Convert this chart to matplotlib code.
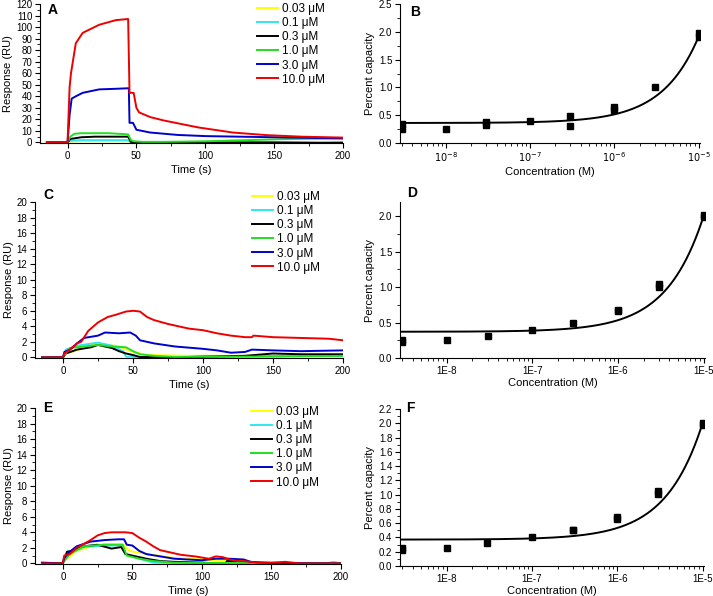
import matplotlib; matplotlib.use("Agg")
import matplotlib.pyplot as plt, numpy as np
from matplotlib.ticker import MultipleLocator, LogLocator, FixedLocator, NullFormatter

plt.rcParams["font.family"] = ["Liberation Sans", "DejaVu Sans"]

CONCS = ["0.03 μM", "0.1 μM", "0.3 μM", "1.0 μM", "3.0 μM", "10.0 μM"]
COLORS = ["#ffff00", "#33e6f0", "#000000", "#22dd22", "#0000cc", "#ee0000"]

# ---- panel A sensorgrams (time s, response RU) ----
A_T = {
    "0.03": [-15, 0, 2, 10, 44, 46, 60, 100, 150, 200],
    "0.1":  [-15, 0, 2, 10, 44, 46, 60, 100, 150, 200],
    "0.3":  [-15, 0, 2, 10, 20, 44, 46, 47, 60, 100, 150, 185, 200],
    "1.0":  [-15, 0, 2, 5, 10, 30, 44, 46, 48, 55, 70, 100, 130, 160, 200],
    "3.0":  [-15, 0, 1.5, 3, 6, 11, 23, 35, 44.5, 45, 47.5, 50, 60, 80, 100, 125, 150, 175, 200],
    "10.0": [-15, 0, 1.5, 2.5, 6, 11, 23, 35, 44, 45, 48, 50, 52, 60, 70, 95, 120, 145, 170, 200],
}
A_Y = {
    "0.03": [0, 0, 0.8, 1.0, 1.0, 0.1, 0, 0.2, 0.3, 0.3],
    "0.1":  [0, 0, 1.5, 2.0, 2.0, 0.1, 0, 0.1, 0.2, 0.3],
    "0.3":  [0, 0, 3.0, 4.5, 5.0, 5.0, 0.5, 0, 0, 0, 0, -0.5, -0.3],
    "1.0":  [0, 0, 5.0, 7.5, 8.0, 8.0, 7.0, 2.0, 1.0, 0.5, 0.5, 1.0, 2.0, 3.0, 3.5],
    "3.0":  [0, 0, 24, 38, 40, 43, 46, 46.5, 47, 17, 17, 11, 8.6, 6.5, 5.5, 5.0, 4.5, 4.0, 3.5],
    "10.0": [0, 0, 48, 60, 86, 95, 102, 106, 107, 43, 43, 30, 26, 22, 19, 13, 8.6, 6.3, 5.0, 4.2],
}

# ---- panel C sensorgrams ----
C_T = {
    "0.03": [-15, 0, 2, 15, 25, 40, 50, 60, 90, 120, 200],
    "0.1":  [-15, 0, 2, 10, 25, 35, 43, 45, 60, 100, 150, 200],
    "0.3":  [-15, 0, 2, 10, 20, 25, 35, 40, 45, 50, 55, 80, 100, 130, 150, 170, 200],
    "1.0":  [-15, 0, 1, 5, 15, 25, 35, 45, 50, 55, 65, 80, 100, 150, 200],
    "3.0":  [-15, 0, 1, 5, 10, 15, 25, 30, 40, 48, 52, 55, 65, 80, 100, 110, 120, 130, 135, 150, 170, 200],
    "10.0": [-15, 0, 1, 5, 10, 13, 18, 25, 32, 38, 45, 50, 55, 60, 65, 75, 90, 100, 110, 120, 130, 135, 136, 150, 170, 190, 200],
}
C_Y = {
    "0.03": [0, 0, 0.5, 1.2, 1.8, 1.4, 0.7, 0.3, 0.2, 0.2, 0.2],
    "0.1":  [0, 0, 1.0, 1.5, 1.9, 1.5, 0.8, 0.1, 0, 0, 0.2, 0.2],
    "0.3":  [0, 0, 0.5, 1.0, 1.3, 1.6, 1.2, 0.8, 0.5, 0.3, 0.05, 0, 0.1, 0.2, 0.5, 0.4, 0.4],
    "1.0":  [0, 0, 0.3, 1.2, 1.4, 1.6, 1.4, 1.3, 0.8, 0.4, 0.2, 0.05, 0.1, 0.1, 0.2],
    "3.0":  [0, 0, 0.7, 1.0, 1.8, 2.5, 2.8, 3.2, 3.1, 3.2, 2.8, 2.2, 1.8, 1.4, 1.1, 0.9, 0.6, 0.7, 1.0, 0.9, 0.8, 0.9],
    "10.0": [0, 0, 0.5, 1.0, 1.8, 2.0, 3.4, 4.5, 5.2, 5.5, 5.9, 6.0, 5.9, 5.2, 4.8, 4.3, 3.7, 3.5, 3.1, 2.8, 2.6, 2.6, 2.8, 2.6, 2.5, 2.4, 2.2],
}

# ---- panel E sensorgrams ----
E_T = {
    "0.03": [-15, 0, 2, 10, 20, 30, 43, 48, 60, 80, 100, 110, 120, 130, 200],
    "0.1":  [-15, 0, 1, 5, 15, 30, 43, 45, 55, 65, 100, 200],
    "0.3":  [-15, 0, 1, 3, 6, 15, 25, 35, 42, 45, 50, 60, 70, 80, 100, 110, 117, 118, 125, 130, 200],
    "1.0":  [-15, 0, 1, 5, 15, 30, 43, 46, 55, 65, 80, 100, 190, 195, 200],
    "3.0":  [-15, 0, 1, 5, 10, 20, 30, 40, 44, 46, 50, 55, 60, 70, 80, 100, 110, 120, 130, 135, 150, 200],
    "10.0": [-15, 0, 1, 5, 10, 15, 20, 25, 30, 35, 45, 50, 55, 60, 65, 70, 75, 85, 95, 105, 110, 115, 120, 125, 130, 140, 150, 160, 170, 200],
}
E_Y = {
    "0.03": [0, 0, 0.5, 1.6, 2.2, 2.5, 2.5, 1.6, 1.2, 0.7, 0.5, 0.4, 0.3, 0.1, 0],
    "0.1":  [0, 0, 0.5, 1.3, 2.1, 2.3, 2.3, 1.2, 0.6, 0.1, 0, 0],
    "0.3":  [0, 0, 0.5, 1.5, 1.6, 2.2, 2.4, 1.9, 2.1, 1.2, 1.0, 0.6, 0.3, 0.2, 0.1, 0, 0, 0.3, 0.3, 0, 0],
    "1.0":  [0, 0, 0.3, 1.2, 2.2, 2.4, 2.4, 1.0, 0.6, 0.3, 0.1, 0.05, 0.05, 0.15, 0],
    "3.0":  [0.1, 0, 0.7, 1.5, 2.2, 2.8, 3.0, 3.1, 3.1, 2.4, 2.3, 1.6, 1.2, 0.9, 0.6, 0.4, 0.6, 0.6, 0.5, 0.2, 0.05, 0],
    "10.0": [0, 0, 1.0, 1.2, 2.0, 2.5, 3.0, 3.6, 3.9, 4.0, 4.0, 3.9, 3.3, 2.8, 2.2, 1.7, 1.5, 1.1, 0.9, 0.6, 0.9, 0.8, 0.5, 0.3, 0.3, 0.1, 0.1, 0.2, 0.0, 0],
}

# ---- capacity vs concentration ----
B_CONC = [3e-9, 3e-9, 1e-8, 3e-8, 3e-8, 1e-7, 3e-7, 3e-7, 1e-6, 1e-6, 3e-6, 1e-5, 1e-5]
B_PCT = [0.25, 0.35, 0.26, 0.33, 0.37, 0.40, 0.30, 0.49, 0.60, 0.65, 1.00, 1.90, 1.98]
D_CONC = [3e-9, 3e-9, 1e-8, 3e-8, 1e-7, 3e-7, 1e-6, 1e-6, 3e-6, 3e-6, 1e-5, 1e-5]
D_PCT = [0.23, 0.25, 0.25, 0.31, 0.40, 0.50, 0.66, 0.68, 1.00, 1.05, 1.99, 2.01]
F_CONC = [3e-9, 3e-9, 1e-8, 3e-8, 1e-7, 3e-7, 3e-7, 1e-6, 1e-6, 3e-6, 3e-6, 1e-5, 1e-5]
F_PCT = [0.23, 0.25, 0.25, 0.32, 0.40, 0.50, 0.51, 0.66, 0.68, 1.01, 1.05, 1.98, 2.01]
# linear fits (intercept, slope per M)
FIT_B = (0.36, 1.55e5)
FIT_D = (0.37, 1.63e5)
FIT_F = (0.37, 1.63e5)

W, H = 713, 596
fig = plt.figure(figsize=(W / 100, H / 100), dpi=100)

def px_axes(l, t, r, b):
    return fig.add_axes([l / W, 1 - b / H, (r - l) / W, (b - t) / H])

def style(ax):
    for s in ("top", "right"):
        ax.spines[s].set_visible(False)
    ax.tick_params(which="major", direction="out", length=3.5, width=0.8, labelsize=7, pad=2)
    ax.tick_params(which="minor", direction="out", length=2, width=0.6)

def sensorgram(ax, T, Y, ymax, ystep, yminor, leg_xy):
    for lab, col, key in zip(CONCS, COLORS, T):
        ax.plot(T[key], Y[key], color=col, lw=1.4, label=lab)
    ax.set_xlim(-20, 200)
    ax.set_ylim(0 - ymax * 0.004, ymax)
    ax.xaxis.set_major_locator(MultipleLocator(50)); ax.xaxis.set_minor_locator(MultipleLocator(25))
    ax.yaxis.set_major_locator(MultipleLocator(ystep)); ax.yaxis.set_minor_locator(MultipleLocator(yminor))
    ax.set_xlabel("Time (s)", fontsize=8, labelpad=3)
    ax.set_ylabel("Response (RU)", fontsize=8, labelpad=2)
    style(ax)
    ax.legend(loc="upper left", bbox_to_anchor=(leg_xy[0] / W, 1 - leg_xy[1] / H),
              bbox_transform=fig.transFigure, frameon=False, fontsize=8.5,
              handlelength=1.8, handletextpad=0.3, labelspacing=0.18,
              borderpad=0, borderaxespad=0)

def capacity(ax, conc, pct, fit, ymax, ystep, yminor, sci):
    ax.plot(conc, pct, "s", color="black", ms=4)
    xs = np.logspace(np.log10(2.95e-9), -5, 300)
    ax.plot(xs, fit[0] + fit[1] * xs, color="black", lw=1.4)
    ax.set_xscale("log"); ax.set_xlim(2.85e-9, 1.04e-5); ax.set_ylim(0, ymax)
    ax.xaxis.set_major_locator(FixedLocator([1e-8, 1e-7, 1e-6, 1e-5]))
    ax.xaxis.set_minor_locator(LogLocator(base=10, subs=np.arange(2, 10), numticks=20))
    ax.xaxis.set_minor_formatter(NullFormatter())
    if sci:
        ax.set_xticklabels([r"$10^{-8}$", r"$10^{-7}$", r"$10^{-6}$", r"$10^{-5}$"], fontsize=6)
    else:
        ax.set_xticklabels(["1E-8", "1E-7", "1E-6", "1E-5"], fontsize=7)
    ax.yaxis.set_major_locator(MultipleLocator(ystep)); ax.yaxis.set_minor_locator(MultipleLocator(yminor))
    ax.yaxis.set_major_formatter(plt.FuncFormatter(lambda v, p: f"{v:.1f}"))
    ax.set_xlabel("Concentration (M)", fontsize=8, labelpad=2)
    ax.set_ylabel("Percent capacity", fontsize=8, labelpad=3)
    style(ax)

axA = px_axes(40, 4, 343, 143)
sensorgram(axA, A_T, A_Y, 120, 10, 5, (257, 3))
axC = px_axes(35, 202, 343, 358)
sensorgram(axC, C_T, C_Y, 20, 2, 1, (252, 191))
axE = px_axes(35, 408, 341, 564)
sensorgram(axE, E_T, E_Y, 20, 2, 1, (251, 406))

axB = px_axes(400, 4, 700, 143)
capacity(axB, B_CONC, B_PCT, FIT_B, 2.5, 0.5, 0.25, True)
axD = px_axes(400, 202, 705, 358)
capacity(axD, D_CONC, D_PCT, FIT_D, 2.2, 0.5, 0.25, False)
axF = px_axes(400, 409, 704, 566)
capacity(axF, F_CONC, F_PCT, FIT_F, 2.2, 0.2, 0.1, False)

for letter, x, y in [("A", 53, 10), ("B", 415, 12), ("C", 48, 195),
                     ("D", 412, 193), ("E", 48, 408), ("F", 410, 408)]:
    fig.text(x / W, 1 - y / H, letter, fontsize=10, fontweight="bold", ha="center", va="center")

fig.savefig("out.png", dpi=100)
